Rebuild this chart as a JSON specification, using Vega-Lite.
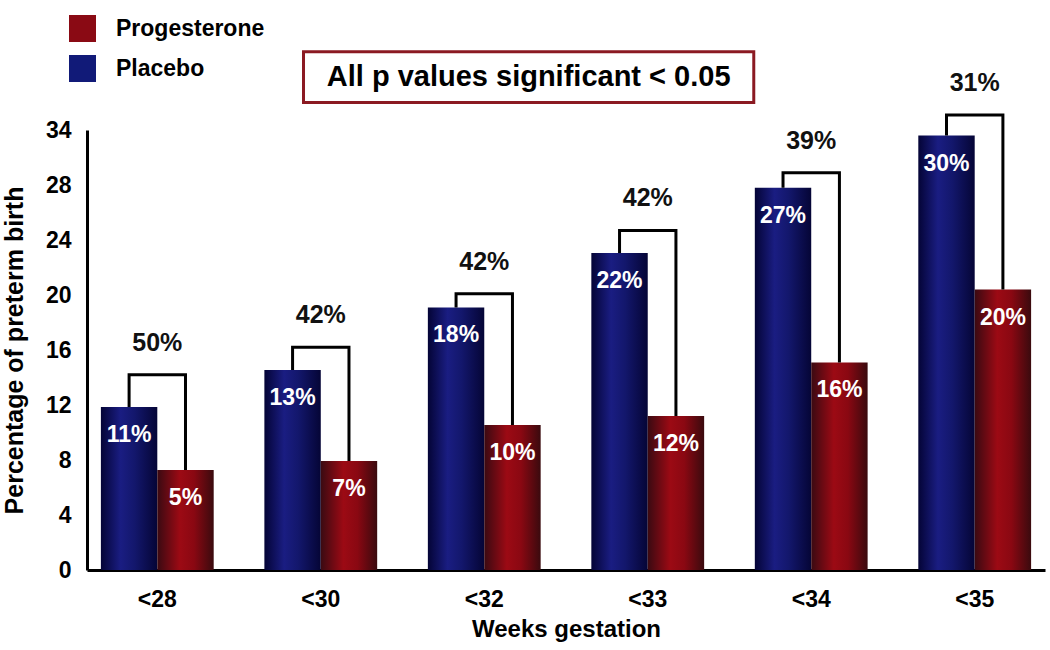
{
  "$schema": "https://vega.github.io/schema/vega-lite/v6.json",
  "width": 958,
  "height": 440,
  "padding": {"left": 2, "top": 15, "right": 2, "bottom": 5},
  "background": "white",
  "config": {"view": {"stroke": null}, "font": "Liberation Sans"},
  "datasets": {
    "bars": [
      {"week": "<28", "grp": "Placebo", "value": 11.85, "label": "11%"},
      {"week": "<28", "grp": "Progesterone", "value": 7.27, "label": "5%"},
      {"week": "<30", "grp": "Placebo", "value": 14.55, "label": "13%"},
      {"week": "<30", "grp": "Progesterone", "value": 7.93, "label": "7%"},
      {"week": "<32", "grp": "Placebo", "value": 19.1, "label": "18%"},
      {"week": "<32", "grp": "Progesterone", "value": 10.55, "label": "10%"},
      {"week": "<33", "grp": "Placebo", "value": 23.05, "label": "22%"},
      {"week": "<33", "grp": "Progesterone", "value": 11.2, "label": "12%"},
      {"week": "<34", "grp": "Placebo", "value": 27.8, "label": "27%"},
      {"week": "<34", "grp": "Progesterone", "value": 15.1, "label": "16%"},
      {"week": "<35", "grp": "Placebo", "value": 31.6, "label": "30%"},
      {"week": "<35", "grp": "Progesterone", "value": 20.4, "label": "20%"}
    ],
    "brackets": [
      {"week": "<28", "grp": "Placebo", "y": 11.85, "ord": 1},
      {"week": "<28", "grp": "Placebo", "y": 14.2, "ord": 2},
      {"week": "<28", "grp": "Progesterone", "y": 14.2, "ord": 3},
      {"week": "<28", "grp": "Progesterone", "y": 7.27, "ord": 4},
      {"week": "<30", "grp": "Placebo", "y": 14.55, "ord": 1},
      {"week": "<30", "grp": "Placebo", "y": 16.2, "ord": 2},
      {"week": "<30", "grp": "Progesterone", "y": 16.2, "ord": 3},
      {"week": "<30", "grp": "Progesterone", "y": 7.93, "ord": 4},
      {"week": "<32", "grp": "Placebo", "y": 19.1, "ord": 1},
      {"week": "<32", "grp": "Placebo", "y": 20.1, "ord": 2},
      {"week": "<32", "grp": "Progesterone", "y": 20.1, "ord": 3},
      {"week": "<32", "grp": "Progesterone", "y": 10.55, "ord": 4},
      {"week": "<33", "grp": "Placebo", "y": 23.05, "ord": 1},
      {"week": "<33", "grp": "Placebo", "y": 24.7, "ord": 2},
      {"week": "<33", "grp": "Progesterone", "y": 24.7, "ord": 3},
      {"week": "<33", "grp": "Progesterone", "y": 11.2, "ord": 4},
      {"week": "<34", "grp": "Placebo", "y": 27.8, "ord": 1},
      {"week": "<34", "grp": "Placebo", "y": 28.9, "ord": 2},
      {"week": "<34", "grp": "Progesterone", "y": 28.9, "ord": 3},
      {"week": "<34", "grp": "Progesterone", "y": 15.1, "ord": 4},
      {"week": "<35", "grp": "Placebo", "y": 31.6, "ord": 1},
      {"week": "<35", "grp": "Placebo", "y": 33.1, "ord": 2},
      {"week": "<35", "grp": "Progesterone", "y": 33.1, "ord": 3},
      {"week": "<35", "grp": "Progesterone", "y": 20.4, "ord": 4}
    ],
    "diffs": [
      {"week": "<28", "top": 14.2, "label": "50%"},
      {"week": "<30", "top": 16.2, "label": "42%"},
      {"week": "<32", "top": 20.1, "label": "42%"},
      {"week": "<33", "top": 24.7, "label": "42%"},
      {"week": "<34", "top": 28.9, "label": "39%"},
      {"week": "<35", "top": 33.1, "label": "31%"}
    ],
    "box": [
      {"x1": 0.226, "x2": 0.696, "xm": 0.461, "y1": 34.0, "y2": 37.7, "ym": 35.85, "text": "All p values significant < 0.05"}
    ]
  },
  "resolve": {"scale": {"x": "independent"}},
  "layer": [
    {
      "layer": [
        {
          "data": {"name": "bars"},
          "transform": [{"filter": "datum.grp == 'Placebo'"}],
          "mark": {"type": "bar", "fill": {"gradient": "linear", "x1": 0, "y1": 0, "x2": 1, "y2": 0, "stops": [
                    {"offset": 0, "color": "#040436"}, {"offset": 0.35, "color": "#1a1d82"},
                    {"offset": 0.6, "color": "#13176c"}, {"offset": 1, "color": "#050536"}]}},
          "encoding": {
            "x": {
              "field": "week", "type": "nominal", "sort": null,
              "scale": {"domain": ["<28", "<30", "<32", "<33", "<34", "<35"], "paddingInner": 0.31, "paddingOuter": 0.085},
              "axis": {
                "title": "Weeks gestation", "labelAngle": 0, "ticks": false,
                "domainWidth": 3, "domainColor": "black",
                "labelFontSize": 23, "labelFontWeight": "bold", "labelColor": "black", "labelPadding": 18,
                "titleFontSize": 24, "titleFontWeight": "bold", "titleColor": "black", "titlePadding": 6
              }
            },
            "xOffset": {"field": "grp", "type": "nominal", "scale": {"domain": ["Placebo", "Progesterone"], "paddingInner": 0, "paddingOuter": 0}},
            "y": {
              "field": "value", "type": "quantitative",
              "scale": {"domain": [0, 32], "nice": false},
              "axis": {
                "title": "Percentage of preterm birth",
                "values": [0, 4, 8, 12, 16, 20, 24, 28, 32],
                "labelExpr": "datum.value == 32 ? '34' : datum.label",
                "ticks": false, "grid": false, "domainWidth": 3, "domainColor": "black",
                "labelFontSize": 23, "labelFontWeight": "bold", "labelColor": "black", "labelPadding": 16,
                "titleFontSize": 25, "titleFontWeight": "bold", "titleColor": "black", "titlePadding": 18
              }
            },
            "color": {
              "field": "grp", "type": "nominal",
              "scale": {"domain": ["Progesterone", "Placebo"], "range": ["#8a0a14", "#111a78"]},
              "legend": {
                "title": null, "orient": "none", "legendX": -18, "legendY": -115,
                "symbolType": "square", "symbolSize": 729, "symbolStrokeWidth": 0, "symbolOpacity": 1,
                "labelFontSize": 23, "labelFontWeight": "bold", "labelColor": "black",
                "rowPadding": 13, "labelOffset": 20
              }
            }
          }
        },
        {
          "data": {"name": "bars"},
          "transform": [{"filter": "datum.grp == 'Progesterone'"}],
          "mark": {"type": "bar", "fill": {"gradient": "linear", "x1": 0, "y1": 0, "x2": 1, "y2": 0, "stops": [
                    {"offset": 0, "color": "#3a0a12"}, {"offset": 0.4, "color": "#9c0a14"},
                    {"offset": 0.65, "color": "#8a0812"}, {"offset": 1, "color": "#3a0a0e"}]}},
          "encoding": {
            "x": {"field": "week", "type": "nominal", "sort": null},
            "xOffset": {"field": "grp", "type": "nominal", "scale": {"domain": ["Placebo", "Progesterone"]}},
            "y": {"field": "value", "type": "quantitative", "scale": {"domain": [0, 32], "nice": false}},
            "color": {"field": "grp", "type": "nominal"}
          }
        },
        {
          "data": {"name": "brackets"},
          "mark": {"type": "line", "color": "black", "strokeWidth": 3, "interpolate": "linear"},
          "encoding": {
            "x": {"field": "week", "type": "nominal", "sort": null},
            "xOffset": {"field": "grp", "type": "nominal", "scale": {"domain": ["Placebo", "Progesterone"]}},
            "y": {"field": "y", "type": "quantitative", "scale": {"domain": [0, 32], "nice": false}},
            "detail": {"field": "week"},
            "order": {"field": "ord", "type": "quantitative"}
          }
        },
        {
          "data": {"name": "bars"},
          "mark": {"type": "text", "color": "white", "fontSize": 23, "fontWeight": "bold", "baseline": "alphabetic", "dy": 35},
          "encoding": {
            "x": {"field": "week", "type": "nominal", "sort": null},
            "xOffset": {"field": "grp", "type": "nominal", "scale": {"domain": ["Placebo", "Progesterone"]}},
            "y": {"field": "value", "type": "quantitative", "scale": {"domain": [0, 32], "nice": false}},
            "text": {"field": "label"}
          }
        },
        {
          "data": {"name": "diffs"},
          "mark": {"type": "text", "color": "#111111", "fontSize": 25, "fontWeight": "bold", "baseline": "alphabetic", "dy": -24},
          "encoding": {
            "x": {"field": "week", "type": "nominal", "sort": null},
            "y": {"field": "top", "type": "quantitative", "scale": {"domain": [0, 32], "nice": false}},
            "text": {"field": "label"}
          }
        }
      ]
    },
    {
      "data": {"name": "box"},
      "layer": [
        {
          "mark": {"type": "rect", "fill": "white", "stroke": "#8b1a22", "strokeWidth": 3},
          "encoding": {
            "x": {"field": "x1", "type": "quantitative", "scale": {"domain": [0, 1]}, "axis": null},
            "x2": {"field": "x2"},
            "y": {"field": "y1", "type": "quantitative", "scale": {"domain": [0, 32], "nice": false}},
            "y2": {"field": "y2"}
          }
        },
        {
          "mark": {"type": "text", "color": "black", "fontSize": 29, "fontWeight": "bold", "baseline": "middle"},
          "encoding": {
            "x": {"field": "xm", "type": "quantitative", "scale": {"domain": [0, 1]}, "axis": null},
            "y": {"field": "ym", "type": "quantitative", "scale": {"domain": [0, 32], "nice": false}},
            "text": {"field": "text"}
          }
        }
      ]
    }
  ]
}
